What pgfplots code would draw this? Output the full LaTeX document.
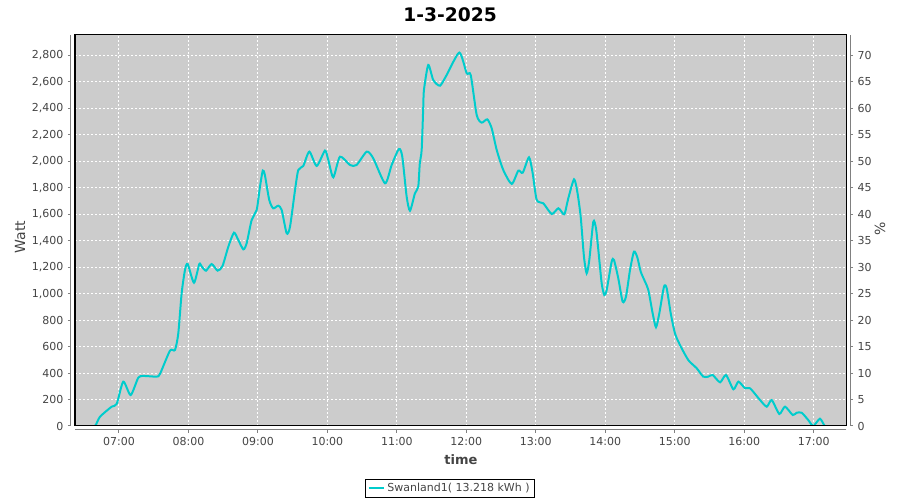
\documentclass[border=0pt]{standalone}
\usepackage{pgfplots}
\usepackage{pgfplotstable}
\pgfplotsset{compat=1.18}
\usepackage{fontspec}
\setmainfont{DejaVu Sans}
\definecolor{plotbg}{RGB}{204,204,204}
\definecolor{linecyan}{RGB}{0,204,204}
\definecolor{axgray}{RGB}{128,128,128}
\definecolor{txtgray}{RGB}{68,68,68}

% time in decimal hours, power in W
\pgfplotstableread{
h w
6.554 0
6.655 0
6.727 70
6.895 146
6.967 166
7.062 335
7.168 234
7.278 365
7.35 378
7.542 373
7.59 393
7.734 569
7.806 574
7.854 700
7.902 1002
7.95 1178
7.989 1223
8.08 1082
8.156 1223
8.19 1205
8.252 1173
8.334 1223
8.42 1173
8.49 1208
8.574 1354
8.655 1460
8.717 1405
8.79 1334
8.838 1380
8.91 1556
8.982 1631
9.03 1808
9.07 1929
9.1 1896
9.163 1707
9.22 1644
9.293 1664
9.342 1631
9.414 1455
9.462 1505
9.534 1782
9.581 1933
9.653 1964
9.74 2072
9.846 1964
9.965 2080
10.013 2009
10.085 1878
10.181 2034
10.325 1971
10.42 1971
10.566 2072
10.66 2022
10.83 1833
10.925 1971
11.03 2092
11.078 2034
11.141 1732
11.189 1626
11.26 1757
11.308 1808
11.33 1984
11.357 2085
11.38 2412
11.39 2538
11.452 2727
11.524 2613
11.62 2570
11.717 2651
11.899 2820
12.005 2664
12.063 2651
12.149 2349
12.22 2291
12.302 2316
12.365 2248
12.437 2085
12.532 1933
12.653 1828
12.748 1928
12.812 1913
12.902 2029
12.955 1909
13.013 1707
13.108 1682
13.229 1601
13.324 1644
13.396 1601
13.42 1610
13.468 1720
13.55 1863
13.597 1770
13.646 1581
13.693 1279
13.732 1153
13.77 1254
13.828 1543
13.866 1493
13.9 1329
13.948 1078
13.986 989
14.02 1027
14.092 1241
14.125 1254
14.187 1116
14.25 939
14.298 977
14.356 1178
14.413 1317
14.461 1274
14.51 1166
14.572 1090
14.62 1027
14.682 851
14.73 746
14.778 851
14.845 1052
14.884 1040
14.942 851
15.003 700
15.075 612
15.195 498
15.316 436
15.41 373
15.483 373
15.546 385
15.652 330
15.738 385
15.844 277
15.916 335
16.012 285
16.084 285
16.228 196
16.324 146
16.396 196
16.505 91
16.587 146
16.698 83
16.755 100
16.827 100
16.922 45
16.994 0
17.09 55
17.16 0
17.23 0
}\powertable

\pgfplotsset{
  common/.style={
    at={(56.25pt,55.5pt)}, anchor=south west,
    scale only axis, width=578.25pt, height=293.25pt,
    xmin=6.367, xmax=17.465,
    axis line style={axgray, line width=0.75pt, -},
    tick align=outside, major tick length=2.25pt,
    tick style={axgray, line width=0.75pt},
    tick label style={font=\fontsize{8.25}{10}\selectfont, text=txtgray},
    /pgf/number format/assume math mode=true,
    /pgf/number format/1000 sep={,},
    scaled y ticks=false,
  }
}

\begin{document}
\begin{tikzpicture}
\path[use as bounding box] (0pt,0pt) rectangle (675pt,375pt);
\begin{axis}[
  common,
  ymin=0, ymax=2953,
  axis x line*=bottom, axis y line*=left,
  axis x line shift=3pt, axis y line shift=3pt,
  axis background/.style={fill=plotbg},
  xtick={7,...,17},
  xticklabels={07:00,08:00,09:00,10:00,11:00,12:00,13:00,14:00,15:00,16:00,17:00},
  ytick={0,200,...,2800},
  grid=major,
  major grid style={white, line width=0.75pt, dash pattern=on 1.5pt off 1.5pt},
  title={1-3-2025},
  title style={at={(axis description cs:0.4864,1.051)}, anchor=center, yshift=-6pt,
    font=\bfseries\fontsize{14}{16}\selectfont},
  xlabel={time},
  xlabel style={at={(axis description cs:0.5006,-0.087)}, anchor=center,
    font=\bfseries\fontsize{9.75}{12}\selectfont, text=txtgray},
  ylabel={Watt},
  ylabel style={at={(axis description cs:-0.0713,0.483)}, anchor=center,
    font=\fontsize{10.5}{12}\selectfont, text=txtgray},
  legend style={at={(axis description cs:0.4864,-0.1586)}, anchor=center,
    draw=black, fill=white, font=\fontsize{8.25}{10}\selectfont,
    inner xsep=1.5pt, inner ysep=1pt, text=txtgray},
  legend image code/.code={\draw[#1] (0pt,0pt) -- (11.25pt,0pt);},
  after end axis/.code={
    \draw[black, line width=0.75pt] (rel axis cs:0,0) rectangle (rel axis cs:1,1);
  },
]
\addplot[linecyan, line width=1.5pt, smooth, tension=0.4] table[x=h, y=w] {\powertable};
\addlegendentry{Swanland1( 13.218 kWh )}
\end{axis}
\begin{axis}[
  common,
  ymin=0, ymax=73.825,
  axis x line=none, axis y line*=right,
  axis y line shift=3pt,
  ytick={0,5,...,70},
  ylabel={\%},
  ylabel style={at={(axis description cs:1.044,0.504)}, anchor=center,
    font=\fontsize{10.5}{12}\selectfont, text=txtgray},
]
\end{axis}
\end{tikzpicture}
\end{document}
